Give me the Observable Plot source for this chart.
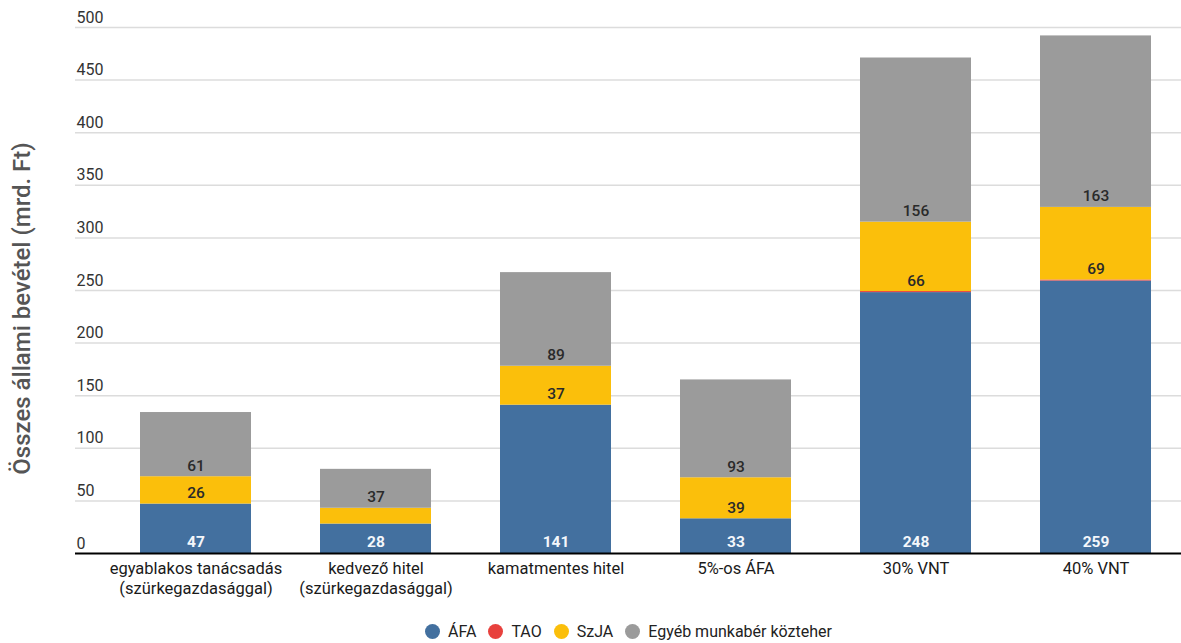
<!DOCTYPE html>
<html lang="hu">
<head>
<meta charset="utf-8">
<script src="https://cdn.jsdelivr.net/npm/d3@7"></script>
<script src="https://cdn.jsdelivr.net/npm/@observablehq/plot@0.6"></script>
<style>
  html, body { margin: 0; padding: 0; background: #fff; }
  body { font-family: Roboto, "Noto Sans", sans-serif; width: 1181px; }
  #legend { display: flex; justify-content: center; align-items: center; gap: 6px;
            font-size: 16px; color: #222; margin-left: 82px; margin-top: 12px; }
  #legend .item { display: flex; align-items: center; gap: 8px; margin-right: 6px; }
  #legend .dot { width: 15px; height: 15px; border-radius: 50%; display: inline-block; }
</style>
</head>
<body>
<div id="chart"></div>
<div id="legend"></div>
<script>
// Scenarios (x categories)
const categories = [
  "egyablakos tanácsadás\n(szürkegazdasággal)",
  "kedvező hitel\n(szürkegazdasággal)",
  "kamatmentes hitel",
  "5%-os ÁFA",
  "30% VNT",
  "40% VNT"
];

// Revenue components, billion HUF
const series = ["ÁFA", "TAO", "SzJA", "Egyéb munkabér közteher"];
const afa    = [47, 28, 141, 33, 248, 259];
const tao    = [0, 0, 0, 0, 1, 1];
const szja   = [26, 15, 37, 39, 66, 69];
const egyeb  = [61, 37, 89, 93, 156, 163];
const colors = ["#43709f", "#e8413d", "#fbbf0b", "#9b9b9b"];

const yTicks = [0, 50, 100, 150, 200, 250, 300, 350, 400, 450, 500];
const yTitle = "Összes állami bevétel (mrd. Ft)";

// Long table for the stacked bars
const columns = [afa, tao, szja, egyeb];
const rows = [];
categories.forEach((c, i) => {
  series.forEach((s, j) => rows.push({category: c, series: s, value: columns[j][i]}));
});

const stackOpts = {x: "category", y: "value", z: "series", order: series};

const chart = Plot.plot({
  width: 1181,
  height: 610,
  marginLeft: 75,
  marginRight: 0,
  marginTop: 27,
  marginBottom: 57,
  style: {fontFamily: "Roboto, 'Noto Sans', sans-serif", background: "#fff"},
  x: {domain: categories, range: [139.5, 1151.5], paddingInner: 0.384, paddingOuter: 0, label: null},
  y: {domain: [0, 500], label: null, axis: null},
  color: {domain: series, range: colors},
  marks: [
    // horizontal grid
    Plot.ruleY(yTicks.filter(d => d > 0), {stroke: "#dcdcdc", strokeWidth: 1.5}),
    // tick labels sitting just above each grid line
    Plot.text(yTicks, {y: d => d, text: d => String(d), frameAnchor: "left", textAnchor: "start",
      dx: 1, dy: -10, fontSize: 16, fill: "#333"}),
    // stacked bars
    Plot.barY(rows, Plot.stackY({...stackOpts, fill: "series"})),
    // value labels at the base of each segment
    Plot.text(rows, Plot.stackY1({...stackOpts,
      text: d => d.series === "ÁFA" ? String(d.value) : "",
      dy: -11, fill: "#f4f7fb", fontWeight: "bold", fontSize: 15.5})),
    Plot.text(rows, Plot.stackY1({...stackOpts,
      text: d => (d.series === "SzJA" || d.series === "Egyéb munkabér közteher") && d.value >= 20 ? String(d.value) : "",
      dy: -11, fill: "#2a2a2a", fontWeight: 500, fontSize: 15.5})),
    // baseline
    Plot.ruleY([0], {stroke: "#000", strokeWidth: 2}),
    // category axis
    Plot.axisX({tickSize: 0, tickPadding: 6, fontSize: 16.5, lineHeight: 1.22, label: null, color: "#1a1a1a"}),
    // y title
    Plot.text([yTitle], {frameAnchor: "left", textAnchor: "middle", text: d => d, rotate: -90,
      dx: -53, dy: 18, fontSize: 24, fontWeight: 500, fill: "#555",
      letterSpacing: "0.8px"})
  ]
});
document.getElementById("chart").append(chart);

// legend with round swatches
const legend = document.getElementById("legend");
series.forEach((s, i) => {
  const item = document.createElement("span");
  item.className = "item";
  const dot = document.createElement("span");
  dot.className = "dot";
  dot.style.background = colors[i];
  item.append(dot, document.createTextNode(s));
  legend.append(item);
});
</script>
</body>
</html>
